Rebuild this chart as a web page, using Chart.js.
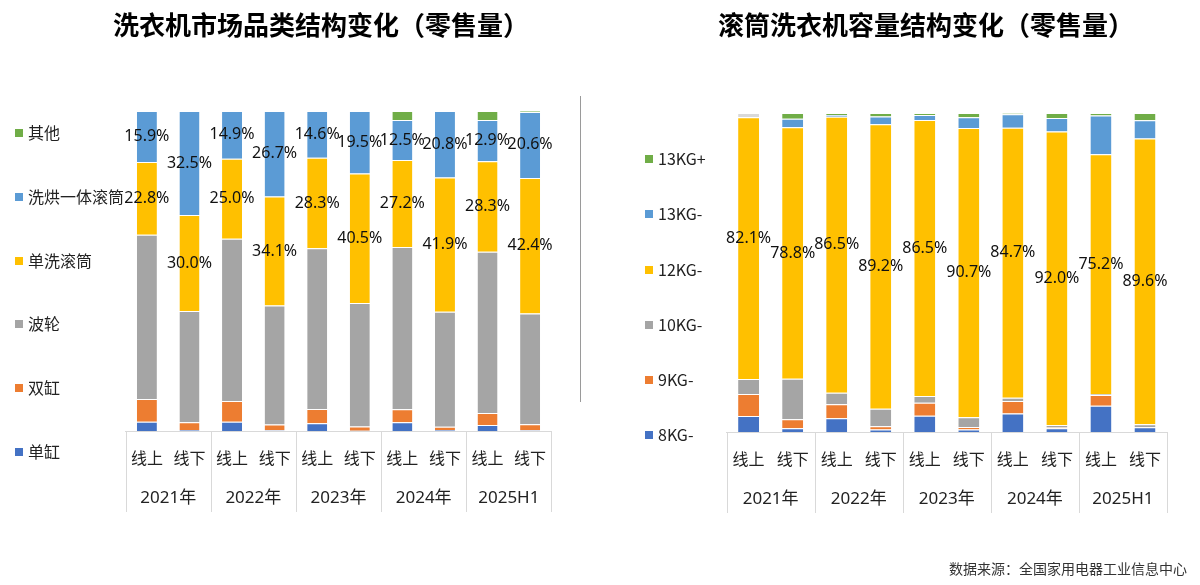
<!DOCTYPE html>
<html>
<head>
<meta charset="utf-8">
<script src="https://cdn.jsdelivr.net/npm/chart.js@4"></script>
<style>
  body { margin: 0; background: #fff; }
  #wrap { position: relative; width: 1200px; height: 585px; overflow: hidden; }
  canvas { position: absolute; left: 0; top: 0; }
  #divider { position: absolute; left: 580px; top: 96px; width: 1px; height: 306px; background: #9a9a9a; }
  #source { position: absolute; right: 13px; top: 558px; line-height: 20px; font-size: 14px;
            font-family: "Noto Sans CJK SC", sans-serif; color: #333; }
</style>
</head>
<body>
<div id="wrap">
  <canvas id="left" width="1200" height="585"></canvas>
  <canvas id="right" width="1200" height="585"></canvas>
  <div id="divider"></div>
  <div id="source">数据来源：全国家用电器工业信息中心</div>
</div>
<script>
// x labels
const channels = ['线上', '线下', '线上', '线下', '线上', '线下', '线上', '线下', '线上', '线下'];
const years = ['2021年', '2022年', '2023年', '2024年', '2025H1'];

// left chart: 洗衣机市场品类结构 (%)
const danGang    = [2.9, 0.3, 2.9, 0.2, 2.4, 0.1, 2.7, 0.3, 1.9, 0.2];
const shuangGang = [7.1, 2.4, 6.5, 1.8, 4.5, 1.3, 4.1, 1.0, 3.7, 1.9];
const boLun      = [51.3, 34.8, 50.7, 37.2, 50.2, 38.6, 50.7, 36.0, 50.4, 34.6];
const danXi      = [22.8, 30.0, 25.0, 34.1, 28.3, 40.5, 27.2, 41.9, 28.3, 42.4];
const xiHong     = [15.9, 32.5, 14.9, 26.7, 14.6, 19.5, 12.5, 20.8, 12.9, 20.6];
const qiTa       = [0, 0, 0, 0, 0, 0, 2.8, 0, 2.8, 0.3];

// right chart: 滚筒洗衣机容量结构 (%)
const kg8     = [5.0, 1.2, 4.3, 0.8, 5.1, 0.8, 5.8, 1.2, 8.2, 1.5];
const kg9     = [6.9, 2.8, 4.4, 1.0, 4.1, 0.8, 3.9, 0.2, 3.4, 0.1];
const kg10    = [4.7, 12.7, 3.6, 5.5, 2.1, 3.0, 1.0, 0.8, 0.3, 0.8];
const kg12    = [82.1, 78.8, 86.5, 89.2, 86.5, 90.7, 84.7, 92.0, 75.2, 89.6];
const kg13    = [0, 2.7, 0.6, 2.4, 1.6, 3.4, 4.2, 4.2, 12.1, 5.7];
const kg13up  = [0, 1.8, 0.6, 1.1, 0.6, 1.3, 0.4, 1.6, 0.8, 2.3];
const kgOther = [1.3, 0, 0, 0, 0, 0, 0, 0, 0, 0];

const FONT = '"Noto Sans CJK SC", "Noto Sans", sans-serif';
const NUM_FONT = '"Noto Sans", "Noto Sans CJK SC", sans-serif';

const extras = {
  id: 'extras',
  afterDatasetsDraw(chart, args, opts) {
    const ctx = chart.ctx;
    ctx.save();
    ctx.font = '16px ' + NUM_FONT;
    ctx.fillStyle = '#111';
    ctx.textAlign = 'center';
    ctx.textBaseline = 'middle';
    chart.data.datasets.forEach((ds, i) => {
      if (!ds.showValue) return;
      chart.getDatasetMeta(i).data.forEach((bar, j) => {
        const v = ds.data[j];
        if (!v) return;
        const shift = (opts.shiftUp && j % 2 === 0) ? opts.shiftUp : 0;
        ctx.fillText(v.toFixed(1) + '%', bar.x, (bar.y + bar.base) / 2 - shift);
      });
    });
    ctx.restore();
  },
  afterDraw(chart, args, opts) {
    const {ctx, chartArea} = chart;
    const x = chart.scales.x;
    ctx.save();
    ctx.textBaseline = 'middle';

    // title
    ctx.fillStyle = '#000';
    ctx.textAlign = 'center';
    ctx.font = 'bold 26px ' + FONT;
    ctx.fillText(opts.title, opts.titleX, 25);

    // legend, top series first
    const items = chart.data.datasets.filter(d => !d.noLegend).reverse();
    ctx.font = '16px ' + FONT;
    ctx.textAlign = 'left';
    items.forEach((d, k) => {
      const cy = opts.legendTop + k * opts.legendGap;
      ctx.fillStyle = d.backgroundColor;
      ctx.fillRect(opts.legendX, Math.round(cy - 4), 8, 8);
      ctx.fillStyle = '#222';
      ctx.fillText(d.label, opts.legendX + 13, cy);
    });

    // year row with box lines
    const half = (x.getPixelForValue(1) - x.getPixelForValue(0)) / 2;
    const top = chartArea.bottom;
    ctx.strokeStyle = '#d9d9d9';
    ctx.lineWidth = 1;
    ctx.beginPath();
    for (let g = 0; g <= years.length; g++) {
      const px = Math.round(x.getPixelForValue(g * 2) - half) + 0.5;
      ctx.moveTo(px, top);
      ctx.lineTo(px, top + 81);
    }
    ctx.stroke();

    ctx.fillStyle = '#222';
    ctx.textAlign = 'center';
    ctx.font = '17px ' + NUM_FONT;
    years.forEach((y, g) => {
      const cx = (x.getPixelForValue(g * 2) + x.getPixelForValue(g * 2 + 1)) / 2;
      ctx.fillText(y, cx, top + 67);
    });
    ctx.restore();
  }
};

function bars(label, data, color, extra) {
  return Object.assign({
    label: label,
    data: data,
    backgroundColor: color,
    borderColor: '#fff',
    borderWidth: {top: 1, right: 0, bottom: 0, left: 0}
  }, extra || {});
}

function makeOptions(padding, barPct, extraOpts) {
  return {
    responsive: false,
    animation: false,
    layout: {padding: padding},
    datasets: {bar: {categoryPercentage: 1, barPercentage: barPct}},
    plugins: {
      legend: {display: false},
      tooltip: {enabled: false},
      extras: extraOpts
    },
    scales: {
      x: {
        stacked: true,
        grid: {display: false, drawTicks: false},
        border: {color: '#d9d9d9', width: 1},
        ticks: {padding: 17, color: '#222', maxRotation: 0, autoSkip: false,
                font: {size: 16, family: FONT}},
        afterFit: s => { s.height = 80; }
      },
      y: {stacked: true, display: false, min: 0, max: 100}
    }
  };
}

new Chart(document.getElementById('left'), {
  type: 'bar',
  data: {
    labels: channels,
    datasets: [
      bars('单缸', danGang, '#4472C4'),
      bars('双缸', shuangGang, '#ED7D31'),
      bars('波轮', boLun, '#A5A5A5'),
      bars('单洗滚筒', danXi, '#FFC000', {showValue: true}),
      bars('洗烘一体滚筒', xiHong, '#5B9BD5', {showValue: true}),
      bars('其他', qiTa, '#70AD47')
    ]
  },
  options: makeOptions({left: 125.6, right: 648.6, top: 111, bottom: 74}, 0.47, {
    title: '洗衣机市场品类结构变化（零售量）',
    titleX: 321,
    legendX: 15, legendTop: 133.3, legendGap: 63.7
  }),
  plugins: [extras]
});

new Chart(document.getElementById('right'), {
  type: 'bar',
  data: {
    labels: channels,
    datasets: [
      bars('8KG-', kg8, '#4472C4'),
      bars('9KG-', kg9, '#ED7D31'),
      bars('10KG-', kg10, '#A5A5A5'),
      bars('12KG-', kg12, '#FFC000', {showValue: true}),
      bars('13KG-', kg13, '#5B9BD5'),
      bars('13KG+', kg13up, '#70AD47'),
      bars('其他', kgOther, '#D9D9D9', {noLegend: true})
    ]
  },
  options: makeOptions({left: 726.6, right: 33, top: 113, bottom: 73}, 0.477, {
    title: '滚筒洗衣机容量结构变化（零售量）',
    titleX: 926,
    legendX: 645, legendTop: 159.3, legendGap: 55.1,
    shiftUp: 10
  }),
  plugins: [extras]
});
</script>
</body>
</html>
